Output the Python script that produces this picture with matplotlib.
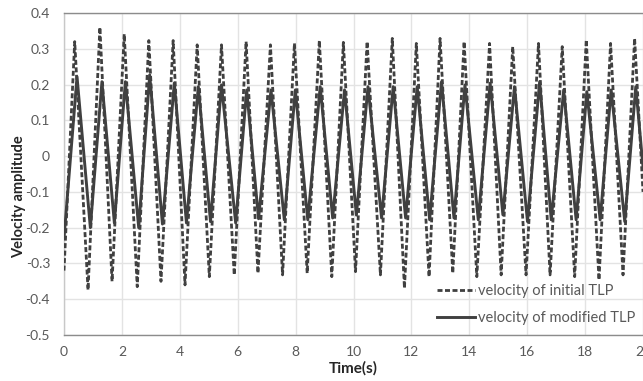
import matplotlib
matplotlib.use("Agg")
import matplotlib.pyplot as plt
from matplotlib.ticker import MultipleLocator, FuncFormatter

plt.rcParams['font.family'] = ['Lato', 'DejaVu Sans']

# Peak / trough samples of the initial TLP velocity record
t_initial = [0.00, 0.37, 0.83, 1.24, 1.66, 2.08, 2.53, 2.93, 3.35, 3.77,
             4.18, 4.60, 5.02, 5.44, 5.88, 6.29, 6.70, 7.13, 7.55, 7.96,
             8.40, 8.82, 9.25, 9.65, 10.07, 10.47, 10.93, 11.34, 11.76, 12.17,
             12.61, 12.99, 13.43, 13.82, 14.26, 14.70, 15.10, 15.50, 15.96, 16.39,
             16.79, 17.21, 17.64, 18.04, 18.48, 18.88, 19.31, 19.71, 20.00]
v_initial = [-0.320, 0.320, -0.374, 0.360, -0.350, 0.341, -0.365, 0.323, -0.350, 0.323,
             -0.360, 0.311, -0.337, 0.311, -0.332, 0.320, -0.327, 0.311, -0.332, 0.315,
             -0.327, 0.323, -0.337, 0.318, -0.323, 0.320, -0.332, 0.329, -0.369, 0.315,
             -0.337, 0.329, -0.327, 0.320, -0.337, 0.315, -0.332, 0.306, -0.332, 0.315,
             -0.332, 0.306, -0.337, 0.325, -0.346, 0.315, -0.332, 0.329, -0.100]

# Peak / trough samples of the modified TLP velocity record
t_modified = [0.00, 0.45, 0.91, 1.31, 1.74, 2.12, 2.58, 2.96, 3.40, 3.81,
              4.23, 4.64, 5.06, 5.44, 5.93, 6.31, 6.72, 7.15, 7.61, 7.99,
              8.42, 8.85, 9.28, 9.69, 10.10, 10.50, 10.97, 11.37, 11.80, 12.20,
              12.63, 13.04, 13.47, 13.85, 14.31, 14.72, 15.16, 15.56, 16.01, 16.43,
              16.83, 17.26, 17.69, 18.06, 18.52, 18.90, 19.37, 19.75, 20.00]
v_modified = [-0.230, 0.222, -0.200, 0.208, -0.187, 0.208, -0.200, 0.227, -0.190, 0.204,
              -0.187, 0.194, -0.183, 0.199, -0.187, 0.185, -0.175, 0.185, -0.178, 0.185,
              -0.178, 0.194, -0.173, 0.185, -0.165, 0.194, -0.173, 0.194, -0.173, 0.194,
              -0.178, 0.208, -0.173, 0.199, -0.178, 0.204, -0.164, 0.194, -0.183, 0.208,
              -0.178, 0.185, -0.178, 0.180, -0.178, 0.185, -0.183, 0.194, -0.030]

series_labels = ["velocity of initial TLP", "velocity of modified TLP"]

line_color = "#404040"
text_color = "#595959"

fig = plt.figure(figsize=(6.43, 3.81), dpi=100)
ax = fig.add_axes([64 / 643, 1 - 335 / 381, 579 / 643, 322 / 381])

ax.plot(t_initial, v_initial, color=line_color, lw=2.0,
        linestyle=(0, (1.8, 0.9)), label=series_labels[0], zorder=3)
ax.plot(t_modified, v_modified, color=line_color, lw=2.1,
        linestyle='-', label=series_labels[1], zorder=3)

ax.set_xlim(0, 20)
ax.set_ylim(-0.5, 0.4)
ax.xaxis.set_major_locator(MultipleLocator(2))
ax.yaxis.set_major_locator(MultipleLocator(0.1))


def fmt_y(v, _):
    v = round(v, 1)
    if abs(v) < 1e-9:
        return "0"
    return f"{v:.1f}"


ax.yaxis.set_major_formatter(FuncFormatter(fmt_y))
ax.xaxis.set_major_formatter(FuncFormatter(lambda v, _: f"{int(round(v))}"))

ax.grid(True, color="#e3e3e3", lw=1.0, zorder=0)
ax.set_axisbelow(True)
ax.tick_params(axis='both', length=0, labelsize=10, colors=text_color)
ax.tick_params(axis='y', pad=10)
ax.tick_params(axis='x', pad=8)

ax.spines["right"].set_visible(False)
ax.spines["top"].set_color("#8c8c8c")
ax.spines["left"].set_color("#c8c8c8")
ax.spines["bottom"].set_color("#8c8c8c")
for s in ax.spines.values():
    s.set_linewidth(1.0)

ax.set_xlabel("Time(s)", fontsize=11, fontweight='bold', color="#262626", labelpad=2)
ax.set_ylabel("Velocity amplitude", fontsize=10.5, fontweight='bold', color="#262626")
ax.yaxis.set_label_coords(-0.065, 0.43)

leg = ax.legend(loc='center left', bbox_to_anchor=(0.645, 0.095), frameon=False,
                fontsize=10.5, handlelength=2.6, handletextpad=0.15,
                labelspacing=0.85, borderpad=0.0, borderaxespad=0.0)
for txt in leg.get_texts():
    txt.set_color(text_color)

fig.savefig("out.png", dpi=100)
